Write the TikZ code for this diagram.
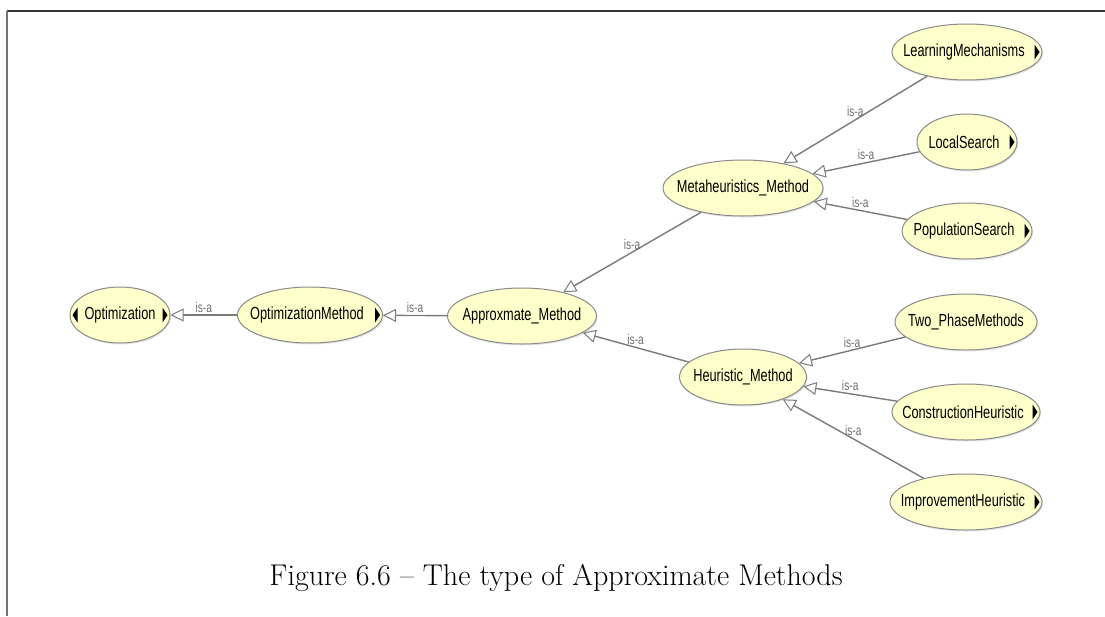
\documentclass[tikz,border=0pt]{standalone}
\usepackage{fontspec}
\newfontfamily\nodefont[FakeStretch=0.73]{Liberation Sans}
\usetikzlibrary{shapes.geometric,arrows.meta,shadows,calc}
\definecolor{nodefill}{HTML}{FFFFCC}
\definecolor{nodeborder}{HTML}{8A8A8A}
\definecolor{edgegray}{HTML}{7A7A7A}
\definecolor{labgray}{HTML}{6E6E6E}
\newcommand\ztext[1]{\makebox[0pt]{#1}}
\newcommand\ltext[1]{\makebox[0pt]{#1\hspace{6pt}}}
\begin{document}
\begin{tikzpicture}[x=1pt,y=-1pt,
  cls/.style={ellipse, draw=nodeborder, line width=1pt, fill=nodefill,
    inner sep=0pt, minimum height=56pt,
    font=\nodefont\fontsize{17.5}{17.5}\selectfont,
    drop shadow={shadow xshift=1pt, shadow yshift=-1.5pt, fill=black!22}},
  isa/.style={draw=edgegray, line width=1.4pt,
    -{Triangle[open, length=13pt, width=13pt, line width=1pt, fill=white]}},
  lab/.style={font=\nodefont\fontsize{14}{14}\selectfont, text=labgray,
    midway, above, inner sep=2pt},
  exptri/.style={fill=black}
]
\useasboundingbox (0,0) rectangle (1105,616);
% frame
\draw[line width=1.5pt, black!80] (6.5,11) -- (1105,11);
\draw[line width=2pt, black!55] (6.5,11) -- (6.5,616);

% nodes
\node[cls, minimum width=100pt] (opt)   at (120,315) {\ztext{Optimization}};
\node[cls, minimum width=145pt] (optm)  at (310,315) {\ltext{OptimizationMethod}};
\node[cls, minimum width=149pt] (appr)  at (522,316) {\ztext{Approxmate\_Method}};
\node[cls, minimum width=160pt] (meta)  at (743,188) {\ztext{Metaheuristics\_Method}};
\node[cls, minimum width=127pt] (heur)  at (743,377) {\ztext{Heuristic\_Method}};
\node[cls, minimum width=150pt] (lm)    at (967,52)  {\ltext{LearningMechanisms}};
\node[cls, minimum width=100pt] (ls)    at (967,142) {\ltext{LocalSearch}};
\node[cls, minimum width=130pt] (ps)    at (967,231) {\ltext{PopulationSearch}};
\node[cls, minimum width=142pt] (tp)    at (966,322) {\ztext{Two\_PhaseMethods}};
\node[cls, minimum width=148pt] (ch)    at (966,412) {\ltext{ConstructionHeuristic}};
\node[cls, minimum width=152pt] (ih)    at (966,502) {\ltext{ImprovementHeuristic}};

% expand triangles
\foreach \n in {opt,optm,lm,ls,ps,ch,ih}{
  \fill[exptri] ($(\n.east)+(-3,0)$) -- ++(-5,-7.5) -- ++(0,15) -- cycle;
}
\fill[exptri] ($(opt.west)+(3,0)$) -- ++(5,-7.5) -- ++(0,15) -- cycle;

% edges
\draw[isa] (optm) -- node[lab] {is-a} (opt);
\draw[isa] (appr) -- node[lab] {is-a} (optm);
\draw[isa] (meta) -- node[lab] {is-a} (appr);
\draw[isa] (heur) -- node[lab] {is-a} (appr);
\draw[isa] (lm) -- node[lab] {is-a} (meta);
\draw[isa] (ls) -- node[lab] {is-a} (meta);
\draw[isa] (ps) -- node[lab] {is-a} (meta);
\draw[isa] (tp) -- node[lab] {is-a} (heur);
\draw[isa] (ch) -- node[lab] {is-a} (heur);
\draw[isa] (ih) -- node[lab] {is-a} (heur);

% caption
\node[font=\fontsize{30}{30}\selectfont, inner sep=0pt] (cap) at (556,578)
  {Figure 6.6 -- The type of Approximate Methods};
\end{tikzpicture}
\end{document}
